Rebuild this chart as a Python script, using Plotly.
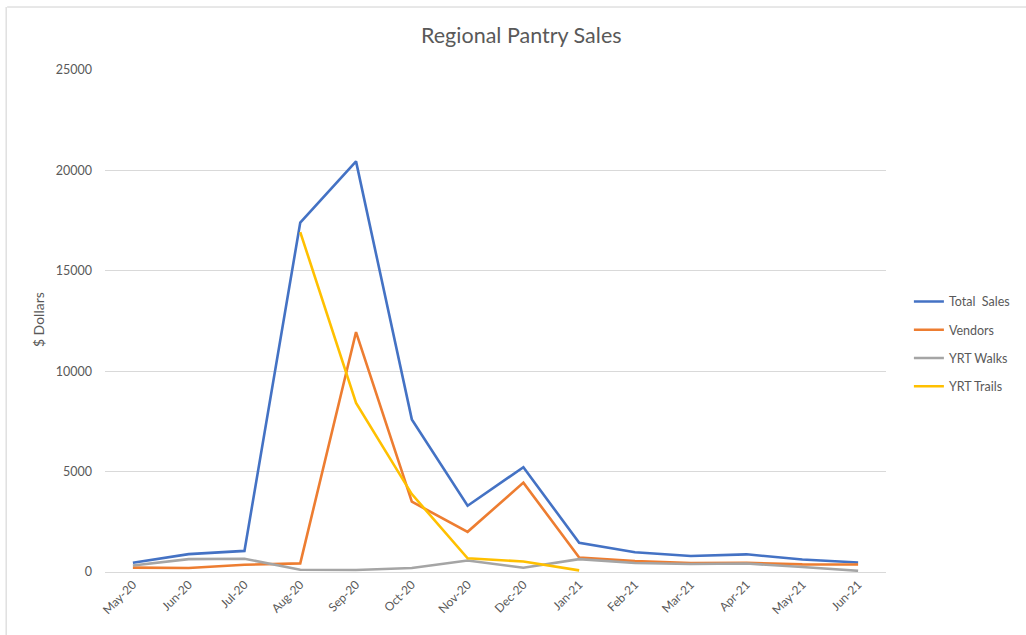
import plotly.graph_objects as go

months = ["May-20", "Jun-20", "Jul-20", "Aug-20", "Sep-20", "Oct-20", "Nov-20",
          "Dec-20", "Jan-21", "Feb-21", "Mar-21", "Apr-21", "May-21", "Jun-21"]
total_sales = [460, 890, 1050, 17400, 20450, 7600, 3300, 5220, 1450, 980, 800, 880, 620, 470]
vendors = [220, 200, 360, 430, 11950, 3500, 2000, 4450, 720, 540, 450, 460, 380, 370]
yrt_walks = [320, 640, 660, 110, 100, 200, 570, 210, 640, 450, 400, 420, 250, 60]
yrt_trails = [None, None, None, 16930, 8420, 3880, 680, 520, 80, None, None, None, None, None]

series = [
    ("Total  Sales", total_sales, "#4472C4"),
    ("Vendors", vendors, "#ED7D31"),
    ("YRT Walks", yrt_walks, "#A5A5A5"),
    ("YRT Trails", yrt_trails, "#FFC000"),
]

FONT = "Lato, Calibri, Carlito, sans-serif"
TXT = "#595959"

fig = go.Figure()
for i, (name, vals, color) in enumerate(series):
    fig.add_trace(go.Scatter(
        x=months, y=vals, name=name, mode="lines",
        line=dict(color=color, width=2.6),
        legendgroup=f"g{i}", connectgaps=False,
    ))

fig.update_layout(
    width=1026, height=635,
    margin=dict(l=105, r=139, t=70, b=63),
    paper_bgcolor="white", plot_bgcolor="white",
    font=dict(family=FONT, color=TXT, size=12),
    showlegend=True,
    legend=dict(x=1.028, y=0.568, xanchor="left", yanchor="top",
                font=dict(size=12.5, color=TXT), traceorder="grouped",
                tracegroupgap=9, itemwidth=30, bgcolor="rgba(0,0,0,0)",
                borderwidth=0),
    xaxis=dict(type="category", range=[-0.5, 13.5], tickangle=-45,
               showgrid=False, showline=True, linecolor="#D9D9D9", linewidth=1,
               ticks="", tickfont=dict(size=12, color=TXT), zeroline=False),
    yaxis=dict(range=[0, 25000], tick0=0, dtick=5000, tickformat="d",
               showgrid=True, gridcolor="#D9D9D9", gridwidth=1,
               zeroline=False, showline=False, ticks="",
               tickfont=dict(size=12.5, color=TXT), ticklabelstandoff=12),
    annotations=[
        dict(text="Regional Pantry Sales", xref="paper", yref="paper",
             x=(522 - 105) / 782, y=(572 - 35) / 502, xanchor="center", yanchor="middle",
             showarrow=False, font=dict(size=21.5, color=TXT, family=FONT)),
        dict(text="$ Dollars", xref="paper", yref="paper",
             x=(38 - 105) / 782, y=(572 - 320) / 502, xanchor="center", yanchor="middle",
             textangle=-90, showarrow=False, font=dict(size=14, color=TXT, family=FONT)),
    ],
    shapes=[
        dict(type="line", xref="paper", yref="paper",
             x0=(7 - 105) / 782, x1=(1030 - 105) / 782,
             y0=(572 - 7) / 502, y1=(572 - 7) / 502,
             line=dict(color="#D0D0D0", width=1)),
        dict(type="line", xref="paper", yref="paper",
             x0=(6 - 105) / 782, x1=(6 - 105) / 782,
             y0=(572 - 7) / 502, y1=(572 - 640) / 502,
             line=dict(color="#D0D0D0", width=1)),
    ],
)

fig.write_html("out.html")
